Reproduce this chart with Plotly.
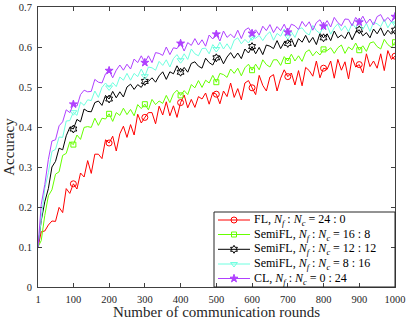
import plotly.graph_objects as go

rounds = [1] + list(range(10, 1001, 10))

acc_fl = [0.100, 0.138, 0.140, 0.155, 0.165, 0.164, 0.199, 0.186, 0.246, 0.234,
          0.258, 0.245, 0.285, 0.275, 0.316, 0.284, 0.332, 0.332, 0.321, 0.368,
          0.360, 0.377, 0.340, 0.383, 0.402, 0.374, 0.406, 0.380, 0.432, 0.410,
          0.424, 0.436, 0.436, 0.408, 0.452, 0.430, 0.463, 0.428, 0.453, 0.424,
          0.461, 0.480, 0.448, 0.469, 0.449, 0.476, 0.470, 0.485, 0.457, 0.486,
          0.482, 0.458, 0.490, 0.476, 0.510, 0.474, 0.496, 0.468, 0.510, 0.516,
          0.498, 0.481, 0.529, 0.504, 0.490, 0.525, 0.531, 0.490, 0.522, 0.543,
          0.526, 0.535, 0.505, 0.541, 0.503, 0.549, 0.541, 0.527, 0.565, 0.523,
          0.547, 0.544, 0.565, 0.522, 0.569, 0.542, 0.563, 0.520, 0.573, 0.550,
          0.556, 0.535, 0.583, 0.551, 0.565, 0.547, 0.583, 0.541, 0.591, 0.569,
          0.577]

acc_semi_16_8 = [0.100, 0.116, 0.179, 0.228, 0.243, 0.282, 0.288, 0.329, 0.334, 0.363,
                 0.356, 0.380, 0.369, 0.399, 0.401, 0.399, 0.422, 0.404, 0.422, 0.420,
                 0.433, 0.414, 0.436, 0.429, 0.447, 0.431, 0.444, 0.428, 0.456, 0.446,
                 0.457, 0.443, 0.469, 0.456, 0.465, 0.459, 0.479, 0.461, 0.483, 0.492,
                 0.479, 0.491, 0.481, 0.506, 0.498, 0.516, 0.499, 0.517, 0.510, 0.529,
                 0.512, 0.534, 0.531, 0.524, 0.545, 0.534, 0.547, 0.528, 0.548, 0.557,
                 0.542, 0.557, 0.543, 0.568, 0.556, 0.550, 0.568, 0.568, 0.554, 0.576,
                 0.565, 0.582, 0.565, 0.578, 0.564, 0.587, 0.593, 0.578, 0.589, 0.580,
                 0.594, 0.591, 0.598, 0.584, 0.598, 0.605, 0.584, 0.600, 0.593, 0.610,
                 0.592, 0.603, 0.589, 0.610, 0.613, 0.601, 0.595, 0.619, 0.606, 0.599,
                 0.612]

acc_semi_12_12 = [0.100, 0.166, 0.213, 0.246, 0.300, 0.314, 0.347, 0.343, 0.378, 0.399,
                  0.395, 0.419, 0.413, 0.445, 0.439, 0.438, 0.461, 0.465, 0.454, 0.479,
                  0.470, 0.489, 0.473, 0.488, 0.475, 0.500, 0.507, 0.494, 0.506, 0.499,
                  0.514, 0.514, 0.523, 0.512, 0.528, 0.538, 0.519, 0.538, 0.533, 0.553,
                  0.537, 0.549, 0.537, 0.559, 0.563, 0.552, 0.547, 0.572, 0.561, 0.555,
                  0.573, 0.577, 0.558, 0.575, 0.586, 0.572, 0.585, 0.571, 0.595, 0.585,
                  0.601, 0.583, 0.599, 0.581, 0.605, 0.602, 0.596, 0.616, 0.596, 0.612,
                  0.609, 0.621, 0.600, 0.621, 0.612, 0.629, 0.611, 0.624, 0.606, 0.634,
                  0.623, 0.633, 0.616, 0.640, 0.623, 0.630, 0.621, 0.639, 0.618, 0.637,
                  0.643, 0.628, 0.636, 0.623, 0.645, 0.633, 0.648, 0.628, 0.642, 0.632,
                  0.642]

acc_semi_8_16 = [0.100, 0.167, 0.246, 0.286, 0.339, 0.344, 0.375, 0.374, 0.415, 0.416,
                 0.437, 0.429, 0.462, 0.454, 0.468, 0.466, 0.490, 0.474, 0.499, 0.510,
                 0.499, 0.511, 0.501, 0.525, 0.517, 0.534, 0.517, 0.534, 0.526, 0.545,
                 0.527, 0.550, 0.548, 0.542, 0.564, 0.554, 0.568, 0.550, 0.571, 0.581,
                 0.567, 0.583, 0.569, 0.595, 0.583, 0.578, 0.596, 0.597, 0.583, 0.606,
                 0.595, 0.612, 0.595, 0.608, 0.594, 0.617, 0.623, 0.608, 0.619, 0.610,
                 0.624, 0.622, 0.629, 0.616, 0.630, 0.638, 0.617, 0.634, 0.627, 0.645,
                 0.627, 0.638, 0.624, 0.645, 0.648, 0.636, 0.630, 0.654, 0.641, 0.634,
                 0.651, 0.654, 0.632, 0.648, 0.658, 0.641, 0.653, 0.638, 0.659, 0.648,
                 0.663, 0.644, 0.659, 0.639, 0.662, 0.658, 0.651, 0.669, 0.648, 0.663,
                 0.659]

acc_cl = [0.100, 0.206, 0.256, 0.319, 0.365, 0.368, 0.403, 0.413, 0.443, 0.436,
          0.457, 0.452, 0.481, 0.492, 0.488, 0.489, 0.519, 0.512, 0.510, 0.533,
          0.541, 0.523, 0.542, 0.555, 0.542, 0.557, 0.545, 0.570, 0.561, 0.578,
          0.561, 0.578, 0.561, 0.586, 0.584, 0.579, 0.600, 0.581, 0.598, 0.596,
          0.609, 0.590, 0.611, 0.604, 0.621, 0.605, 0.618, 0.602, 0.630, 0.620,
          0.632, 0.615, 0.640, 0.624, 0.632, 0.623, 0.642, 0.621, 0.642, 0.648,
          0.634, 0.643, 0.630, 0.652, 0.641, 0.656, 0.636, 0.651, 0.641, 0.657,
          0.637, 0.657, 0.653, 0.644, 0.664, 0.651, 0.663, 0.642, 0.661, 0.668,
          0.652, 0.666, 0.650, 0.674, 0.661, 0.653, 0.670, 0.669, 0.653, 0.674,
          0.662, 0.677, 0.659, 0.670, 0.655, 0.676, 0.681, 0.664, 0.674, 0.663,
          0.676]

nf_nc = '<i>N</i><sub><i>f</i></sub> : <i>N</i><sub><i>c</i></sub>'
series = [
    ('FL, ' + nf_nc + ' = 24 : 0', acc_fl, '#ff0000', 'circle-open', 6),
    ('SemiFL, ' + nf_nc + ' = 16 : 8', acc_semi_16_8, '#66ff00', 'square-open', 5),
    ('SemiFL, ' + nf_nc + ' = 12 : 12', acc_semi_12_12, '#000000', 'hexagram-open', 6),
    ('SemiFL, ' + nf_nc + ' = 8 : 16', acc_semi_8_16, '#6fffe0', 'triangle-down-open', 6),
    ('CL, ' + nf_nc + ' = 0 : 24', acc_cl, '#b040ff', 'star', 6),
]

W, H = 407, 321
L, R, T, B = 38, 12, 7, 34
pw, ph = W - L - R, H - T - B

def px_x(p):
    return (p - L) / pw

def px_y(p):
    return (H - B - p) / ph

fig = go.Figure()
for name, acc, color, symbol, size in series:
    fig.add_trace(go.Scatter(x=rounds, y=acc, mode='lines', name=name,
                             line=dict(color=color, width=1)))
    fig.add_trace(go.Scatter(x=rounds[10::10], y=acc[10::10], mode='markers',
                             marker=dict(symbol=symbol, size=size, color=color,
                                         line=dict(color=color, width=1))))

# hand-built legend box (MATLAB style, compact rows)
row_px = [220, 234.5, 249.3, 264, 278.5]
for (name, acc, color, symbol, size), ry in zip(series, row_px):
    yy = px_y(ry)
    fig.add_trace(go.Scatter(x=[px_x(218), px_x(250)], y=[yy, yy], mode='lines',
                             xaxis='x2', yaxis='y2', line=dict(color=color, width=1)))
    fig.add_trace(go.Scatter(x=[px_x(234)], y=[yy], mode='markers', xaxis='x2', yaxis='y2',
                             marker=dict(symbol=symbol, size=size, color=color,
                                         line=dict(color=color, width=1))))
    fig.add_annotation(x=px_x(252), y=yy, xref='paper', yref='paper', text=name,
                       showarrow=False, xanchor='left', yanchor='middle',
                       font=dict(size=12, color='#000000'))
fig.add_shape(type='rect', xref='paper', yref='paper', x0=px_x(214), x1=1,
              y0=0, y1=px_y(212), line=dict(color='#262626', width=1))

# x axis title placed like the original figure
fig.add_annotation(x=0.5, y=px_y(312), xref='paper', yref='paper',
                   text='Number of communication rounds', showarrow=False,
                   xanchor='center', yanchor='middle',
                   font=dict(size=15, color='#262626'))

axis_style = dict(showline=True, linecolor='#404040', linewidth=1, mirror='ticks',
                  ticks='inside', ticklen=4, tickcolor='#404040', showgrid=False,
                  zeroline=False, tickfont=dict(size=10.5, color='#262626'))

fig.update_layout(
    width=W, height=H,
    margin=dict(l=L, r=R, t=T, b=B, autoexpand=False),
    plot_bgcolor='white', paper_bgcolor='white',
    font=dict(family='Liberation Serif', color='#262626'),
    showlegend=False,
    xaxis=dict(range=[1, 1000], tickvals=[1, 100, 200, 300, 400, 500, 600, 700, 800, 900, 1000],
               ticklabelstandoff=2, automargin=False, **axis_style),
    yaxis=dict(range=[0, 0.7], tickvals=[0, 0.1, 0.2, 0.3, 0.4, 0.5, 0.6, 0.7],
               ticktext=['0', '0.1', '0.2', '0.3', '0.4', '0.5', '0.6', '0.7'],
               ticklabelstandoff=3, automargin=False,
               title=dict(text='Accuracy', font=dict(size=15), standoff=0),
               **axis_style),
    xaxis2=dict(range=[0, 1], overlaying='x', visible=False, fixedrange=True),
    yaxis2=dict(range=[0, 1], overlaying='y', visible=False, fixedrange=True),
)

# drop the default page margin so the figure sits at the window's corner
fig.write_html("out.html", config={'displayModeBar': False},
               post_script="document.body.style.margin='0';")
